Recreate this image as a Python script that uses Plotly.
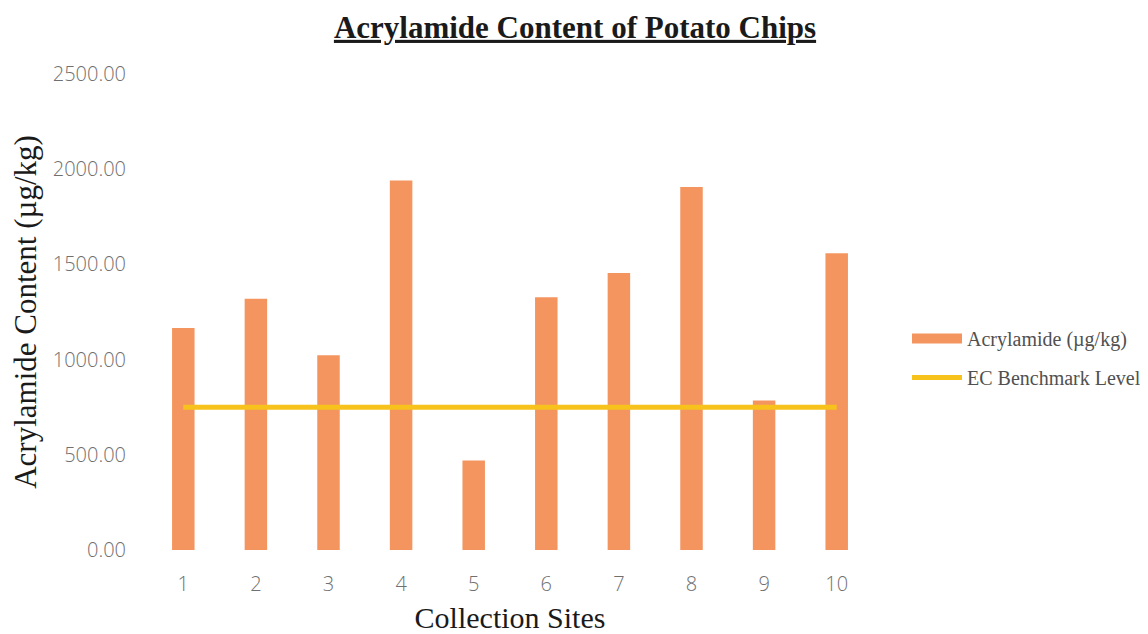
import plotly.graph_objects as go

sites = ["1", "2", "3", "4", "5", "6", "7", "8", "9", "10"]
acrylamide = [1166, 1320, 1023, 1940, 470, 1327, 1455, 1907, 785, 1558]
benchmark = [750] * len(sites)
y_ticks = [0, 500, 1000, 1500, 2000, 2500]

bar_color = "#F4955F"
line_color = "#F7C21C"

# page has an 8px body margin, so the figure is sized to fit the window
W, H = 1140, 626

fig = go.Figure()
fig.add_trace(go.Bar(
    x=sites, y=acrylamide, name="Acrylamide (µg/kg)",
    marker=dict(color=bar_color, line=dict(width=0)),
    width=0.31, showlegend=False,
))
# legend swatch for the bars (wide rectangle like the original)
fig.add_trace(go.Scatter(
    x=[None], y=[None], name="Acrylamide (µg/kg)",
    mode="lines", line=dict(color=bar_color, width=10),
    legendgroup="a", hoverinfo="skip",
))
fig.add_trace(go.Scatter(
    x=sites, y=benchmark, name="EC Benchmark Level",
    mode="lines", line=dict(color=line_color, width=5),
    legendgroup="b",
))

fig.update_layout(
    width=W, height=H,
    margin=dict(l=139, r=275, t=66, b=84),
    paper_bgcolor="white", plot_bgcolor="white",
    title=dict(
        text="<b>Acrylamide Content of Potato Chips</b>",
        x=567 / W, xref="container", xanchor="center",
        y=1 - 19 / H, yref="container", yanchor="middle",
        font=dict(family="Liberation Serif", size=31, color="#1a1a1a",
                  lineposition="under"),
    ),
    legend=dict(
        x=899 / W, xref="container", xanchor="left",
        y=1 - 350 / H, yref="container", yanchor="middle",
        font=dict(family="Liberation Serif", size=20, color="#505050"),
        traceorder="grouped", tracegroupgap=10,
        itemwidth=50,
    ),
    xaxis=dict(
        type="category", range=[-0.5, 9.5], automargin=False,
        showgrid=False, showline=False, zeroline=False,
        ticks="outside", ticklen=16, tickcolor="rgba(0,0,0,0)",
        tickfont=dict(family="Open Sans", size=20, color="#707070", weight=300),
        title=dict(text="Collection Sites", standoff=16,
                   font=dict(family="Liberation Serif", size=30, color="#1a1a1a")),
    ),
    yaxis=dict(
        range=[0, 2500], tickvals=y_ticks, tickformat=".2f", automargin=False,
        showgrid=False, showline=False, zeroline=False,
        ticks="outside", ticklen=16, tickcolor="rgba(0,0,0,0)",
        tickfont=dict(family="Open Sans", size=20, color="#707070", weight=300),
        title=dict(text="Acrylamide Content (µg/kg)", standoff=6,
                   font=dict(family="Liberation Serif", size=31, color="#1a1a1a")),
    ),
)

fig.write_html("out.html")
